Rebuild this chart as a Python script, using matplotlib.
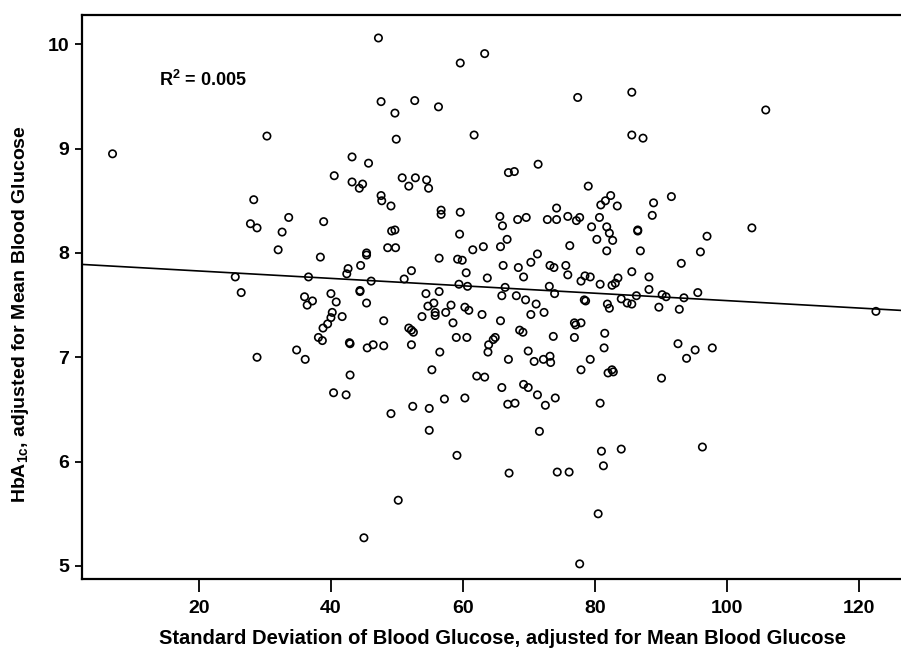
import matplotlib
matplotlib.use("Agg")
import matplotlib.pyplot as plt
import numpy as np

plt.rcParams['font.family'] = ['Liberation Sans', 'DejaVu Sans']
plt.rcParams['font.weight'] = 'bold'
plt.rcParams['mathtext.fontset'] = 'custom'
plt.rcParams['mathtext.rm'] = 'Liberation Sans:bold'
plt.rcParams['mathtext.default'] = 'rm'

# SD of blood glucose (adjusted) vs HbA1c (adjusted)
sd_glucose = [
    6.9, 30.3, 28.3, 27.8, 28.8, 25.5, 26.4, 28.8,
    47.2, 59.6, 47.6, 52.7, 56.3, 49.7, 49.9, 61.7, 43.2, 45.7, 40.5, 43.2,
    44.8, 44.3, 50.8, 52.8, 51.8, 54.5, 54.8, 47.6, 47.7, 49.1, 56.7, 56.7,
    59.6, 33.6, 38.9,
    63.3, 77.4, 85.6, 85.6, 87.3, 71.4, 66.9, 67.8, 79.0, 82.4, 81.6, 80.9,
    83.4, 91.6, 88.9, 88.7, 74.2, 65.6, 68.3, 69.6, 72.8, 74.2, 75.9, 77.7,
    77.2, 80.7,
    105.9,
    32.6, 32.0, 38.4, 49.2, 49.7, 59.5, 61.5, 63.1, 48.6, 49.8, 45.4, 45.4,
    56.4, 59.2, 59.9, 42.6, 42.4, 44.5, 52.2, 60.5, 36.6, 46.1, 51.1, 59.4,
    60.7, 44.4, 44.4, 54.4, 56.4, 40.0, 36.0, 37.2, 36.4, 40.8, 45.4, 55.6,
    54.7, 58.2, 60.3, 60.9, 55.8, 55.8, 57.4, 40.2, 40.0, 41.7, 53.8, 62.9,
    39.5, 38.8, 48.0, 58.5, 51.8, 52.2, 52.5, 38.1, 38.7, 42.8, 42.9, 59.0,
    60.6, 34.8, 36.1, 45.5, 46.4, 48.0, 52.2, 56.5, 55.3, 62.1, 42.9, 40.4,
    42.3, 49.1, 52.4, 54.9, 57.2, 60.3, 54.9,
    66.0, 79.5, 81.8, 82.2, 82.7, 86.5, 86.5, 66.7, 65.7, 76.2, 80.3, 81.8,
    86.9, 71.3, 70.3, 66.1, 68.4, 73.2, 73.8, 75.6, 75.9, 93.1, 85.6, 63.7,
    69.2, 77.9, 78.5, 79.3, 80.8, 82.6, 83.1, 83.5, 88.2, 88.2, 66.4, 65.9,
    68.1, 69.5, 73.1, 73.9, 71.1, 72.3, 70.3, 65.7, 78.4, 78.6, 81.9, 82.2,
    84.0, 84.9, 85.6, 86.3, 90.2, 90.8, 93.5, 89.7, 92.8, 76.9, 77.1, 77.9,
    76.9, 73.7, 81.5, 68.6, 69.1, 64.9, 64.6, 63.9, 63.8, 81.4, 92.6, 93.9,
    69.9, 66.9, 70.8, 72.2, 73.2, 73.3, 79.3, 77.9, 82.0, 82.6, 82.8, 90.1,
    63.3, 65.9, 69.2, 69.9, 71.3, 74.0, 66.8, 67.9, 72.5, 80.8, 71.6,
    97.0, 96.0, 103.8, 95.6, 122.6, 95.2, 97.8,
    59.1, 50.2, 45.0, 67.0, 74.3, 76.1, 81.0, 84.0, 81.3, 80.5, 77.7, 96.3,
]
hba1c = [
    8.95, 9.12, 8.51, 8.28, 8.24, 7.77, 7.62, 7.00,
    10.06, 9.82, 9.45, 9.46, 9.40, 9.34, 9.09, 9.13, 8.92, 8.86, 8.74, 8.68,
    8.66, 8.62, 8.72, 8.72, 8.64, 8.70, 8.62, 8.55, 8.50, 8.45, 8.41, 8.37,
    8.39, 8.34, 8.30,
    9.91, 9.49, 9.54, 9.13, 9.10, 8.85, 8.77, 8.78, 8.64, 8.55, 8.50, 8.46,
    8.45, 8.54, 8.48, 8.36, 8.43, 8.35, 8.32, 8.34, 8.32, 8.32, 8.35, 8.34,
    8.31, 8.34,
    9.37,
    8.20, 8.03, 7.96, 8.21, 8.22, 8.18, 8.03, 8.06, 8.05, 8.05, 8.00, 7.98,
    7.95, 7.94, 7.93, 7.85, 7.80, 7.88, 7.83, 7.81, 7.77, 7.73, 7.75, 7.70,
    7.68, 7.64, 7.63, 7.61, 7.63, 7.61, 7.58, 7.54, 7.50, 7.53, 7.52, 7.52,
    7.49, 7.50, 7.48, 7.45, 7.43, 7.40, 7.43, 7.43, 7.38, 7.39, 7.39, 7.41,
    7.32, 7.28, 7.35, 7.33, 7.28, 7.26, 7.24, 7.19, 7.16, 7.14, 7.13, 7.19,
    7.19, 7.07, 6.98, 7.09, 7.12, 7.11, 7.12, 7.05, 6.88, 6.82, 6.83, 6.66,
    6.64, 6.46, 6.53, 6.51, 6.60, 6.61, 6.30,
    8.26, 8.25, 8.25, 8.19, 8.12, 8.22, 8.21, 8.13, 8.06, 8.07, 8.13, 8.02,
    8.02, 7.99, 7.91, 7.88, 7.86, 7.88, 7.86, 7.88, 7.79, 7.90, 7.82, 7.76,
    7.77, 7.73, 7.78, 7.77, 7.70, 7.69, 7.71, 7.76, 7.77, 7.65, 7.67, 7.59,
    7.59, 7.55, 7.68, 7.61, 7.51, 7.43, 7.41, 7.35, 7.55, 7.54, 7.51, 7.47,
    7.56, 7.52, 7.51, 7.59, 7.60, 7.58, 7.57, 7.48, 7.46, 7.33, 7.31, 7.33,
    7.19, 7.20, 7.23, 7.26, 7.24, 7.19, 7.17, 7.12, 7.05, 7.09, 7.13, 6.99,
    7.06, 6.98, 6.96, 6.98, 7.01, 6.95, 6.98, 6.88, 6.85, 6.88, 6.86, 6.80,
    6.81, 6.71, 6.74, 6.71, 6.64, 6.61, 6.55, 6.56, 6.54, 6.56, 6.29,
    8.16, 8.01, 8.24, 7.62, 7.44, 7.07, 7.09,
    6.06, 5.63, 5.27, 5.89, 5.90, 5.90, 6.10, 6.12, 5.96, 5.50, 5.02, 6.14,
]

# regression line as drawn
fit_intercept = 7.898
fit_slope = -0.00355
r_squared = "0.005"

x_ticks = [20, 40, 60, 80, 100, 120]
y_ticks = [5, 6, 7, 8, 9, 10]

fig = plt.figure(figsize=(9.01, 6.53), dpi=100)
ax = fig.add_axes([0.091, 0.1133, 0.909, 0.8637])

ax.scatter(sd_glucose, hba1c, s=28, facecolors='none', edgecolors='black',
           linewidths=1.2, zorder=3)
ax.axline((0, fit_intercept), slope=fit_slope, color='black', lw=1.2, zorder=2)

ax.set_xlim(2.27, 126.4)
ax.set_ylim(4.875, 10.28)
ax.set_xticks(x_ticks)
ax.set_yticks(y_ticks)
ax.tick_params(axis='x', length=9, width=1.3, labelsize=14, pad=6)
ax.tick_params(axis='y', length=5, width=1.3, labelsize=14, pad=4)
for lab in ax.get_xticklabels() + ax.get_yticklabels():
    lab.set_fontweight('bold')

for side in ['top', 'left', 'bottom']:
    ax.spines[side].set_linewidth(1.6)
ax.spines['right'].set_visible(False)

ax.set_xlabel('Standard Deviation of Blood Glucose, adjusted for Mean Blood Glucose',
              fontsize=14.5, fontweight='bold')
ax.set_ylabel(r'HbA$_{1c}$, adjusted for Mean Blood Glucose',
              fontsize=14, fontweight='bold')
ax.xaxis.set_label_coords(0.513, -0.088)
ax.yaxis.set_label_coords(-0.062, 0.47)

ax.text(0.094, 0.885, r'R$^{2}$ = ' + r_squared, transform=ax.transAxes,
        fontsize=13, fontweight='bold', va='center', ha='left')

fig.savefig('out.png', dpi=100)
